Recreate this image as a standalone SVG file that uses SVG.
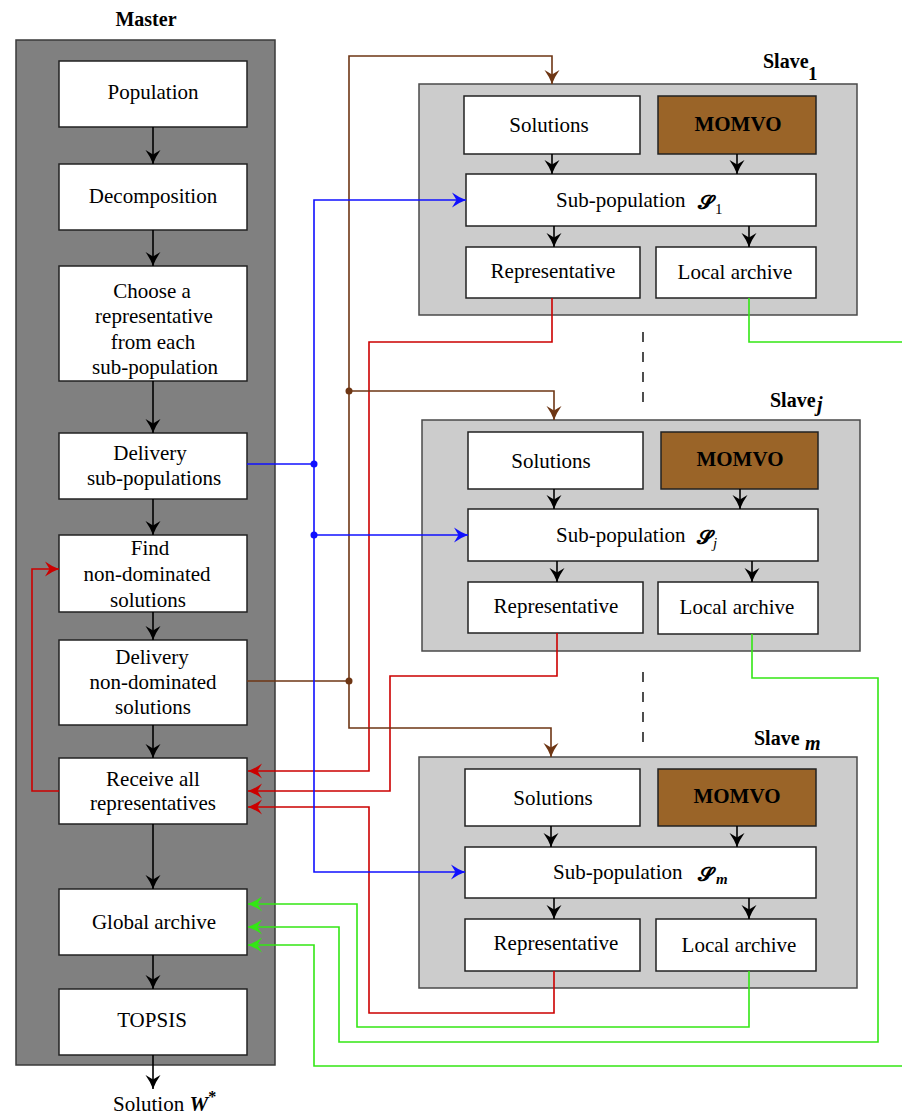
<svg xmlns="http://www.w3.org/2000/svg" width="902" height="1115" viewBox="0 0 902 1115">
<defs>
<style>
text{font-family:"Liberation Serif","Times New Roman",serif;fill:#000}
.t{font-size:21px;text-anchor:middle}
.b{font-weight:bold}
.master{fill:#808080;stroke:#3a3a3a;stroke-width:1.5}
.slave{fill:#cccccc;stroke:#4a4a4a;stroke-width:1.5}
.node{fill:#fff;stroke:#222;stroke-width:1.5}
.momvo{fill:#9a6428;stroke:#222;stroke-width:1.5}
.k{fill:none;stroke:#000;stroke-width:1.6;marker-end:url(#ak)}
.bl{fill:none;stroke:#1010ff;stroke-width:1.6}
.br{fill:none;stroke:#6e3614;stroke-width:1.6}
.rd{fill:none;stroke:#cc0000;stroke-width:1.6}
.gr{fill:none;stroke:#33e614;stroke-width:1.6}
.scr{font-family:"DejaVu Serif","Noto Sans",serif;font-weight:bold;font-size:20px}
</style>
<marker id="ak" markerUnits="userSpaceOnUse" markerWidth="18" markerHeight="18" viewBox="-16 -9 18 18" refX="0" refY="0" orient="auto"><path d="M0,0 Q-7,-2.5 -14,-7.5 L-9.5,0 L-14,7.5 Q-7,2.5 0,0Z" fill="#000"/></marker>
<marker id="ab" markerUnits="userSpaceOnUse" markerWidth="18" markerHeight="18" viewBox="-16 -9 18 18" refX="0" refY="0" orient="auto"><path d="M0,0 Q-7,-2.5 -14,-7.5 L-9.5,0 L-14,7.5 Q-7,2.5 0,0Z" fill="#1010ff"/></marker>
<marker id="abr" markerUnits="userSpaceOnUse" markerWidth="18" markerHeight="18" viewBox="-16 -9 18 18" refX="0" refY="0" orient="auto"><path d="M0,0 Q-7,-2.5 -14,-7.5 L-9.5,0 L-14,7.5 Q-7,2.5 0,0Z" fill="#6e3614"/></marker>
<marker id="ar" markerUnits="userSpaceOnUse" markerWidth="18" markerHeight="18" viewBox="-16 -9 18 18" refX="0" refY="0" orient="auto"><path d="M0,0 Q-7,-2.5 -14,-7.5 L-9.5,0 L-14,7.5 Q-7,2.5 0,0Z" fill="#cc0000"/></marker>
<marker id="ag" markerUnits="userSpaceOnUse" markerWidth="18" markerHeight="18" viewBox="-16 -9 18 18" refX="0" refY="0" orient="auto"><path d="M0,0 Q-7,-2.5 -14,-7.5 L-9.5,0 L-14,7.5 Q-7,2.5 0,0Z" fill="#33e614"/></marker>
</defs>

<g id="master">
<text x="146" y="26" class="t b" style="font-size:20px">Master</text>
<rect x="16" y="40" width="259" height="1025" class="master"/>
</g>

<g id="slave1-panel">
<rect x="419" y="84" width="438" height="231" class="slave"/>
<text x="763" y="68" class="b" style="font-size:20px">Slave</text>
<text x="808" y="80" class="b" style="font-size:19px">1</text>
</g>
<g id="slavej-panel">
<rect x="422" y="420" width="438" height="231" class="slave"/>
<text x="770" y="407" class="b" style="font-size:20px">Slave</text>
<text x="817" y="411" class="b" style="font-size:20px;font-style:italic">j</text>
</g>
<g id="slavem-panel">
<rect x="419" y="757" width="438" height="231" class="slave"/>
<text x="754" y="745" class="b" style="font-size:20px">Slave</text>
<text x="805" y="750" class="b" style="font-size:20px;font-style:italic">m</text>
</g>

<g id="population"><rect x="59" y="61" width="188" height="66" class="node"/><text x="153" y="99" class="t">Population</text></g>
<g id="decomposition"><rect x="59" y="164" width="188" height="66" class="node"/><text x="153" y="203" class="t">Decomposition</text></g>
<g id="choose"><rect x="59" y="266" width="188" height="115" class="node"/>
<text class="t"><tspan x="152" y="298">Choose a</tspan><tspan x="154" y="323">representative</tspan><tspan x="153" y="349">from each</tspan><tspan x="155" y="374">sub-population</tspan></text></g>
<g id="delivery-sub"><rect x="59" y="433" width="188" height="66" class="node"/>
<text class="t"><tspan x="150" y="460">Delivery</tspan><tspan x="154" y="485">sub-populations</tspan></text></g>
<g id="find"><rect x="59" y="535" width="188" height="77" class="node"/>
<text class="t"><tspan x="150" y="555">Find</tspan><tspan x="147" y="581">non-dominated</tspan><tspan x="148" y="607">solutions</tspan></text></g>
<g id="delivery-nd"><rect x="59" y="640" width="188" height="85" class="node"/>
<text class="t"><tspan x="152" y="664">Delivery</tspan><tspan x="153" y="689">non-dominated</tspan><tspan x="153" y="714">solutions</tspan></text></g>
<g id="receive"><rect x="59" y="758" width="188" height="66" class="node"/>
<text class="t"><tspan x="153" y="786">Receive all</tspan><tspan x="153" y="810">representatives</tspan></text></g>
<g id="global"><rect x="59" y="889" width="188" height="66" class="node"/><text x="154" y="929" class="t">Global archive</text></g>
<g id="topsis"><rect x="59" y="989" width="188" height="66" class="node"/><text x="152" y="1027" class="t">TOPSIS</text></g>
<g id="solution"><text x="113" y="1111" style="font-size:21px">Solution <tspan font-weight="bold" font-style="italic">W</tspan><tspan font-weight="bold" font-size="16" dy="-9">*</tspan></text></g>

<g id="s1-solutions"><rect x="464" y="96" width="176" height="58" class="node"/><text x="549" y="132" class="t">Solutions</text></g>
<g id="s1-momvo"><rect x="658" y="96" width="158" height="58" class="momvo"/><text x="738" y="131" class="t b">MOMVO</text></g>
<g id="s1-sub"><rect x="466" y="174" width="350" height="52" class="node"/><text x="556" y="207" style="font-size:21px">Sub-population</text><text x="698" y="209" class="scr">𝓢</text><text x="715" y="214" style="font-size:15px">1</text></g>
<g id="s1-rep"><rect x="466" y="247" width="174" height="51" class="node"/><text x="553" y="278" class="t">Representative</text></g>
<g id="s1-local"><rect x="656" y="247" width="160" height="51" class="node"/><text x="735" y="279" class="t">Local archive</text></g>

<g id="sj-solutions"><rect x="468" y="432" width="175" height="57" class="node"/><text x="551" y="468" class="t">Solutions</text></g>
<g id="sj-momvo"><rect x="661" y="432" width="157" height="57" class="momvo"/><text x="740" y="466" class="t b">MOMVO</text></g>
<g id="sj-sub"><rect x="468" y="509" width="350" height="52" class="node"/><text x="556" y="542" style="font-size:21px">Sub-population</text><text x="697" y="544" class="scr">𝓢</text><text x="713" y="548" style="font-size:15px;font-style:italic">j</text></g>
<g id="sj-rep"><rect x="468" y="582" width="175" height="51" class="node"/><text x="556" y="613" class="t">Representative</text></g>
<g id="sj-local"><rect x="658" y="582" width="160" height="52" class="node"/><text x="737" y="614" class="t">Local archive</text></g>

<g id="sm-solutions"><rect x="465" y="769" width="175" height="57" class="node"/><text x="553" y="805" class="t">Solutions</text></g>
<g id="sm-momvo"><rect x="658" y="769" width="158" height="57" class="momvo"/><text x="737" y="803" class="t b">MOMVO</text></g>
<g id="sm-sub"><rect x="465" y="847" width="351" height="51" class="node"/><text x="553" y="879" style="font-size:21px">Sub-population</text><text x="698" y="881" class="scr">𝓢</text><text x="716" y="884" style="font-size:15px;font-style:italic;font-weight:bold">m</text></g>
<g id="sm-rep"><rect x="465" y="919" width="175" height="52" class="node"/><text x="556" y="950" class="t">Representative</text></g>
<g id="sm-local"><rect x="656" y="919" width="160" height="52" class="node"/><text x="739" y="952" class="t">Local archive</text></g>

<g id="connectors">
<path class="k" d="M153,127V164"/>
<path class="k" d="M153,230V266"/>
<path class="k" d="M153,381V433"/>
<path class="k" d="M153,499V535"/>
<path class="k" d="M153,612V640"/>
<path class="k" d="M153,725V758"/>
<path class="k" d="M153,824V889"/>
<path class="k" d="M153,955V989"/>
<path class="k" d="M153,1055V1089"/>

<path class="k" d="M552,154V174"/>
<path class="k" d="M737,154V174"/>
<path class="k" d="M554,226V247"/>
<path class="k" d="M749,226V247"/>
<path class="k" d="M554,489V509"/>
<path class="k" d="M740,489V509"/>
<path class="k" d="M557,561V582"/>
<path class="k" d="M752,561V582"/>
<path class="k" d="M551,826V847"/>
<path class="k" d="M737,826V847"/>
<path class="k" d="M554,898V919"/>
<path class="k" d="M749,898V919"/>

<path d="M643,332V410" fill="none" stroke="#222" stroke-width="1.6" stroke-dasharray="10,10"/>
<path d="M643,672V748" fill="none" stroke="#222" stroke-width="1.6" stroke-dasharray="10,10"/>

<path class="rd" d="M552,298V342H369V771H248" marker-end="url(#ar)"/>
<path class="rd" d="M557,633V676H390V791H248" marker-end="url(#ar)"/>
<path class="rd" d="M554,971V1013H369V807H248" marker-end="url(#ar)"/>
<path class="rd" d="M59,791H32V569H59" marker-end="url(#ar)"/>

<path class="gr" d="M749,298V342H902"/>
<path class="gr" d="M902,1066H314V945H248" marker-end="url(#ag)"/>
<path class="gr" d="M752,634V678H878V1042H339V927H248" marker-end="url(#ag)"/>
<path class="gr" d="M749,971V1027H357V904H248" marker-end="url(#ag)"/>

<path class="br" d="M247,681H349"/>
<path class="br" d="M349,681V56H552V84" marker-end="url(#abr)"/>
<path class="br" d="M349,391H554V420" marker-end="url(#abr)"/>
<path class="br" d="M349,681V728H551V757" marker-end="url(#abr)"/>
<circle cx="349" cy="681" r="3.5" fill="#6e3614"/>
<circle cx="349" cy="391" r="3.5" fill="#6e3614"/>

<path class="bl" d="M247,464H314"/>
<path class="bl" d="M314,464V200H466" marker-end="url(#ab)"/>
<path class="bl" d="M314,535H468" marker-end="url(#ab)"/>
<path class="bl" d="M314,464V872H465" marker-end="url(#ab)"/>
<circle cx="314" cy="464" r="3.5" fill="#1010ff"/>
<circle cx="314" cy="535" r="3.5" fill="#1010ff"/>
</g>
</svg>
